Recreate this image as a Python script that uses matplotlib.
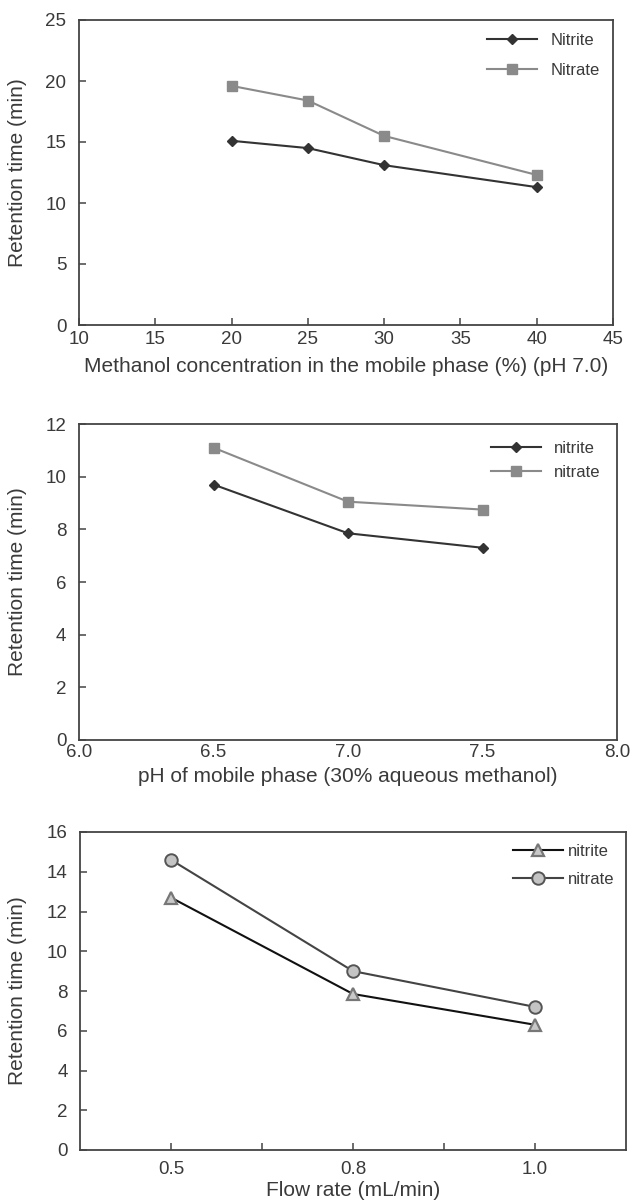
import matplotlib
matplotlib.use("Agg")
import matplotlib.pyplot as plt

plt.rcParams['font.family'] = ['Liberation Sans', 'DejaVu Sans']

# Panel 1 data
meth_x = [20, 25, 30, 40]
meth_nitrite = [15.1, 14.5, 13.1, 11.3]
meth_nitrate = [19.6, 18.4, 15.5, 12.3]

# Panel 2 data
ph_x = [6.5, 7.0, 7.5]
ph_nitrite = [9.7, 7.85, 7.3]
ph_nitrate = [11.1, 9.05, 8.75]

# Panel 3 data
flow_labels = ['0.5', '0.8', '1.0']
flow_nitrite = [12.7, 7.85, 6.3]
flow_nitrate = [14.6, 9.0, 7.2]

W, H = 632, 1203
fig = plt.figure(figsize=(W / 100, H / 100), dpi=100)

def axrect(l, t, r, b):
    return [l / W, 1 - b / H, (r - l) / W, (b - t) / H]

txt = '#3a3a3a'
spine = '#444444'

def style(ax, l, t, r, b, xlab_y):
    for s in ax.spines.values():
        s.set_color(spine)
        s.set_linewidth(1.3)
    ax.tick_params(direction='in', length=5, width=1.1, color=spine,
                   labelsize=13.5, labelcolor=txt, pad=4)
    ax.tick_params(axis='y', pad=9)
    ax.set_ylabel('Retention time (min)', fontsize=15, color=txt)
    ax.yaxis.set_label_coords((18 - l) / (r - l), 0.5)
    ax.yaxis.label.set_va('center')
    ax.xaxis.label.set_va('center')
    ax.xaxis.set_label_coords(0.5, (b - xlab_y) / (b - t))

# Panel 1
l, t, r, b = 79, 20, 613, 325
ax1 = fig.add_axes(axrect(l, t, r, b))
ax1.plot(meth_x, meth_nitrite, color='#333333', lw=1.5, marker='D', ms=5.5,
         mfc='#333333', mec='#333333', label='Nitrite')
ax1.plot(meth_x, meth_nitrate, color='#8a8a8a', lw=1.5, marker='s', ms=6.5,
         mfc='#8a8a8a', mec='#8a8a8a', label='Nitrate')
ax1.set_xlim(10, 45)
ax1.set_ylim(0, 25)
ax1.set_xticks(range(10, 46, 5))
ax1.set_yticks(range(0, 26, 5))
ax1.set_xlabel('Methanol concentration in the mobile phase (%) (pH 7.0)', fontsize=15, color=txt)
style(ax1, l, t, r, b, 366)
ax1.legend(loc='upper right', frameon=False, fontsize=12, handlelength=3,
           labelspacing=0.9, borderaxespad=0.4, labelcolor=txt)

# Panel 2
l, t, r, b = 79, 424, 617, 740
ax2 = fig.add_axes(axrect(l, t, r, b))
ax2.plot(ph_x, ph_nitrite, color='#333333', lw=1.5, marker='D', ms=5.5,
         mfc='#333333', mec='#333333', label='nitrite')
ax2.plot(ph_x, ph_nitrate, color='#8a8a8a', lw=1.5, marker='s', ms=6.5,
         mfc='#8a8a8a', mec='#8a8a8a', label='nitrate')
ax2.set_xlim(6.0, 8.0)
ax2.set_ylim(0, 12)
ax2.set_xticks([6.0, 6.5, 7.0, 7.5, 8.0])
ax2.set_xticklabels(['6.0', '6.5', '7.0', '7.5', '8.0'])
ax2.set_yticks(range(0, 13, 2))
ax2.set_xlabel('pH of mobile phase (30% aqueous methanol)', fontsize=15, color=txt)
style(ax2, l, t, r, b, 777)
ax2.tick_params(axis='x', length=0, pad=3)
ax2.legend(loc='upper right', frameon=False, fontsize=12, handlelength=3,
           labelspacing=0.55, borderaxespad=0.6, labelcolor=txt)

# Panel 3
l, t, r, b = 80, 832, 626, 1150
ax3 = fig.add_axes(axrect(l, t, r, b))
pos = [1, 3, 5]
ax3.plot(pos, flow_nitrite, color='#111111', lw=1.5, marker='^', ms=9,
         mfc='#c8c8c8', mec='#777777', mew=1.6, label='nitrite')
ax3.plot(pos, flow_nitrate, color='#444444', lw=1.5, marker='o', ms=9,
         mfc='#c4c4c4', mec='#555555', mew=1.4, label='nitrate')
ax3.set_xlim(0, 6)
ax3.set_ylim(0, 16)
ax3.set_xticks([1, 2, 3, 4, 5])
ax3.set_xticklabels(['0.5', '', '0.8', '', '1.0'])
ax3.set_yticks(range(0, 17, 2))
ax3.set_xlabel('Flow rate (mL/min)', fontsize=15, color=txt)
style(ax3, l, t, r, b, 1191)
ax3.tick_params(axis='x', pad=8)
ax3.legend(loc='upper right', frameon=False, fontsize=12, handlelength=3,
           handletextpad=0.3, labelspacing=0.8, borderaxespad=0.3, labelcolor=txt)

fig.savefig('out.png', dpi=100)
